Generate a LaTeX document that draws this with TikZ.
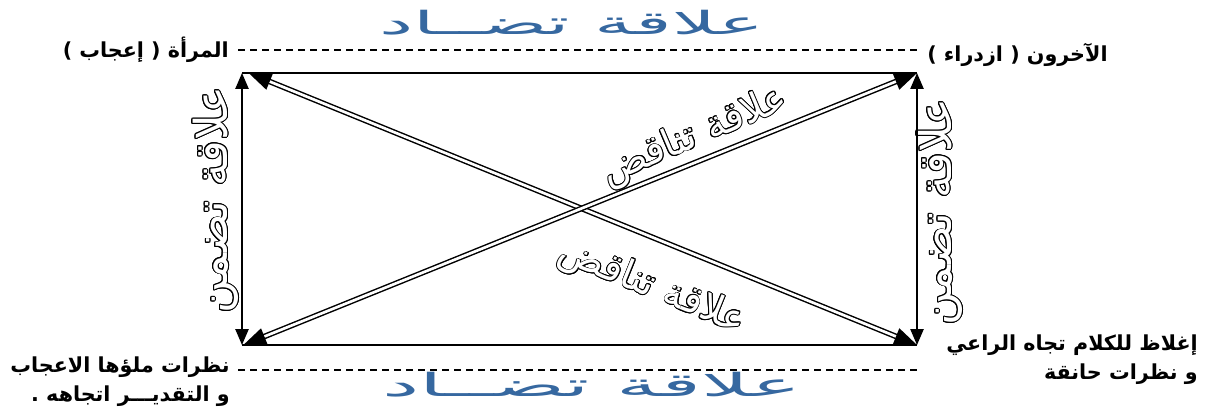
\documentclass[tikz,border=0pt]{standalone}
\usepackage{fontspec}
\usepackage{contour}
\usetikzlibrary{arrows.meta}
\setmainfont{DejaVu Sans}
\newfontfamily\arabicfont[Script=Arabic]{DejaVu Sans}
\TeXXeTstate=1
\newcommand{\ar}[1]{{\arabicfont\beginR #1\endR}}
\newcommand{\hollow}[1]{\contour{black}{\textcolor{white}{\ar{#1}}}}
\contourlength{0.6pt}
\definecolor{tadadblue}{RGB}{54,104,160}

\begin{document}
\begin{tikzpicture}[x=0.75pt, y=-0.75pt,
  edge/.style={line width=1.5pt},
  side/.style={line width=1.1pt,
               {Triangle[length=12pt,width=10pt]}-{Triangle[length=12pt,width=10pt]}},
  cross/.style={double, line width=1.1pt, double distance=2pt,
                {Triangle[length=17pt,width=13pt]}-{Triangle[length=17pt,width=13pt]}},
  guide/.style={line width=0.8pt, dash pattern=on 5pt off 4pt},
  term/.style={font=\fontsize{15.5}{22}\selectfont\bfseries, inner sep=0pt, align=right},
  tadad/.style={text=tadadblue, font=\fontsize{24}{28}\selectfont, xscale=2.4, inner sep=0pt},
  tadamun/.style={font=\fontsize{34}{40}\selectfont, rotate=90, inner sep=0pt},
  tanaqud/.style={font=\fontsize{29}{34}\selectfont, inner sep=0pt},
]
\useasboundingbox (0,0) rectangle (1207,410);

% corners of the square
\coordinate (tl) at (242,73);
\coordinate (tr) at (917,73);
\coordinate (bl) at (242,345);
\coordinate (br) at (917,345);

% ends of the dashed guides
\coordinate (gtl) at (238,50);
\coordinate (gtr) at (920,50);
\coordinate (gbl) at (238,370);
\coordinate (gbr) at (920,370);

% terms
\node[term, anchor=east] (woman)  at (229,50) {\ar{المرأة ( إعجاب )}};
\node[term, anchor=west] (others) at (927,55) {\ar{الآخرون ( ازدراء )}};
\node[term, anchor=east] (admire) at (230,382)
  {\ar{نظرات ملؤها الاعجاب}\\ \ar{و التقديـــر اتجاهه .}};
\node[term, anchor=east] (harsh)  at (1198,360)
  {\ar{إغلاظ للكلام تجاه الراعي}\\ \ar{و نظرات حانقة}};

% relations
\node[tadad] (tadadtop) at (572,23) {\ar{علاقة تضــاد}};
\node[tadad, xscale=1.09] (tadadbot) at (592,385) {\ar{علاقة تضــاد}};
\node[tadamun] (tadamunl) at (216,200) {\hollow{علاقة تضمن}};
\node[tadamun] (tadamunr) at (940,212) {\hollow{علاقة تضمن}};
\node[tanaqud, rotate=23]  (tanaqudup) at (695,137) {\hollow{علاقة تناقض}};
\node[tanaqud, rotate=-22] (tanaquddn) at (652,288) {\hollow{علاقة تناقض}};

\draw[guide] (gtl) -- (gtr);
\draw[guide] (gbl) -- (gbr);

\draw[edge] (tl) -- (tr);
\draw[edge] (bl) -- (br);
\draw[side] (tl) -- (bl);
\draw[side] (tr) -- (br);
\draw[cross] ([xshift=5pt]tl) -- (br);
\draw[cross] ([xshift=1pt]bl) -- (tr);
\end{tikzpicture}
\end{document}
